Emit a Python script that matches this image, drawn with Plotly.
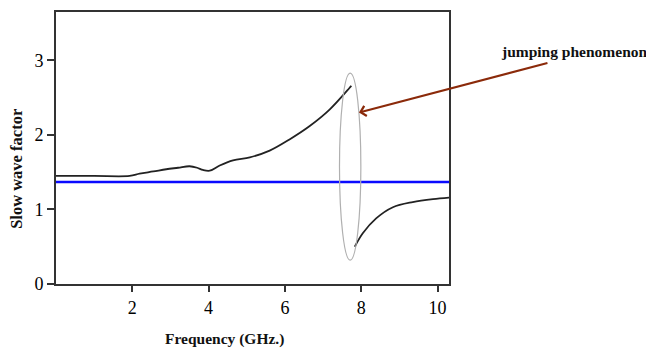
import plotly.graph_objects as go

# Upper branch of slow wave factor curve
upper_freq = [0.0, 1.0, 1.93, 2.19, 2.55, 2.89, 3.20, 3.50, 3.70, 3.85, 4.03, 4.29, 4.64, 5.08, 5.60, 6.12, 6.65, 7.17, 7.69, 7.74]
upper_swf  = [1.45, 1.45, 1.45, 1.48, 1.51, 1.54, 1.56, 1.58, 1.56, 1.53, 1.52, 1.59, 1.66, 1.70, 1.79, 1.94, 2.12, 2.34, 2.63, 2.66]

# Lower branch after the jump
lower_freq = [7.83, 8.04, 8.39, 8.83, 9.35, 9.88, 10.30]
lower_swf  = [0.50, 0.68, 0.88, 1.03, 1.10, 1.14, 1.16]

# Reference (horizontal blue line)
ref_freq = [0.0, 10.3]
ref_swf = [1.37, 1.37]

x_ticks = [2, 4, 6, 8, 10]
y_ticks = [0, 1, 2, 3]

fig = go.Figure()
fig.add_trace(go.Scatter(x=ref_freq, y=ref_swf, mode="lines",
                         line=dict(color="#0a0aff", width=2.5), showlegend=False, hoverinfo="skip"))
fig.add_trace(go.Scatter(x=upper_freq, y=upper_swf, mode="lines", line_shape="spline",
                         line=dict(color="#222222", width=1.8), showlegend=False))
fig.add_trace(go.Scatter(x=lower_freq, y=lower_swf, mode="lines", line_shape="spline",
                         line=dict(color="#222222", width=1.8), showlegend=False))

serif = "Liberation Serif, Times New Roman, serif"

fig.update_layout(
    width=646, height=350,
    margin=dict(l=56, r=197, t=10, b=66),
    plot_bgcolor="white", paper_bgcolor="white",
    showlegend=False,
    xaxis=dict(range=[0, 10.3], tickvals=x_ticks, ticks="outside", ticklen=6, tickwidth=1.5,
               tickcolor="#333", showline=True, linecolor="#333", linewidth=2, mirror=True,
               showgrid=False, zeroline=False,
               tickfont=dict(family=serif, size=18, color="black")),
    yaxis=dict(range=[0, 3.65], tickvals=y_ticks, ticks="outside", ticklen=7, tickwidth=1.5,
               tickcolor="#333", showline=True, linecolor="#333", linewidth=2, mirror=True,
               showgrid=False, zeroline=False,
               tickfont=dict(family=serif, size=18, color="black")),
)

# Ellipse marking the jump
fig.add_shape(type="circle", xref="x", yref="y", x0=7.43, x1=7.99, y0=0.32, y1=2.83,
              line=dict(color="#b0b0b0", width=1.2))

# Axis titles as annotations
fig.add_annotation(text="<b>Frequency (GHz.)</b>", xref="paper", yref="paper",
                   x=(224 - 56) / 393, y=-(339 - 284) / 274, xanchor="center", yanchor="middle",
                   showarrow=False, font=dict(family=serif, size=15.5, color="#111"))
fig.add_annotation(text="<b>Slow wave factor</b>", xref="paper", yref="paper",
                   x=-(56 - 17) / 393, y=(284 - 168) / 274, xanchor="center", yanchor="middle",
                   textangle=-90, showarrow=False,
                   font=dict(family=serif, size=16.5, color="#111"))

# Arrow + label
fig.add_annotation(x=7.94, y=2.30, xref="x", yref="y", ax=190, ay=-50, axref="pixel", ayref="pixel",
                   text="", showarrow=True, arrowhead=4, arrowsize=1, arrowwidth=2,
                   arrowcolor="#8b2a0a")
fig.add_annotation(text="<b>jumping phenomenon</b>", xref="paper", yref="paper",
                   x=(499 - 56) / 393, y=(284 - 50) / 274, xanchor="left", yanchor="middle",
                   showarrow=False, font=dict(family=serif, size=15.5, color="#111"))

fig.write_html("out.html", config={"displayModeBar": False},
               post_script="document.body.style.margin='0';")
